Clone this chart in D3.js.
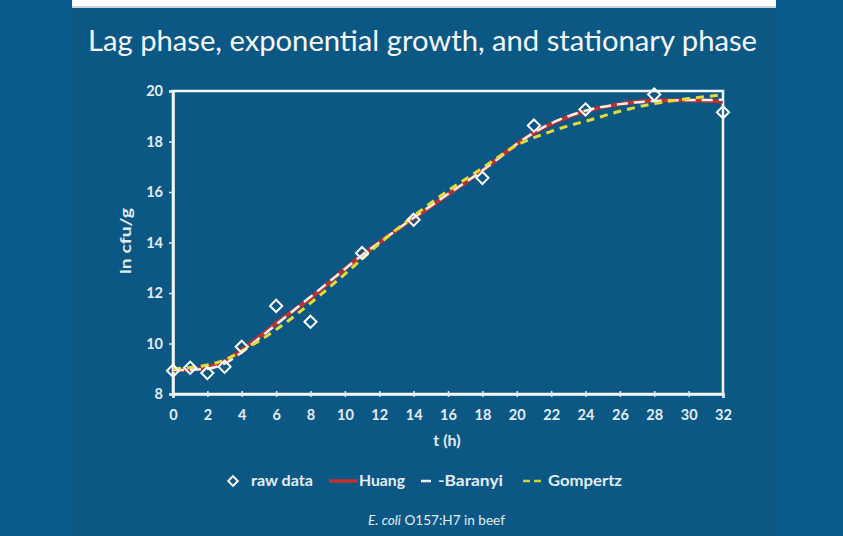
<!DOCTYPE html>
<html>
<head>
<meta charset="utf-8">
<script src="https://cdn.jsdelivr.net/npm/d3@7"></script>
<style>
  html, body { margin: 0; padding: 0; background: #0b5b8b; }
  svg { display: block; }
</style>
</head>
<body>
<svg id="chart" width="843" height="536"></svg>
<script>
// ---- data ----
const rawT      = [0, 1, 2, 3, 4, 6, 8, 11, 14, 18, 21, 24, 28, 32];
const rawValues = [8.92, 9.04, 8.83, 9.08, 9.87, 11.49, 10.86, 13.58, 14.9, 16.56, 18.63, 19.27, 19.86, 19.16];

const curveT   = [0, 1, 2, 3, 4, 5, 6, 7, 8, 10, 11, 12, 14, 16, 18, 19, 20, 21, 22, 23, 24, 26, 28, 30, 32];
const huang    = [8.95, 8.97, 9.05, 9.3, 9.75, 10.25, 10.8, 11.3, 11.8, 12.95, 13.5, 14.0, 14.96, 15.91, 16.85, 17.38, 17.9, 18.35, 18.7, 18.98, 19.2, 19.48, 19.62, 19.63, 19.58];
const baranyi  = [8.95, 8.96, 9.0, 9.2, 9.65, 10.2, 10.75, 11.3, 11.85, 12.95, 13.5, 14.0, 14.98, 15.92, 16.85, 17.36, 17.9, 18.35, 18.72, 19.0, 19.22, 19.48, 19.6, 19.64, 19.65];
const gompertz = [9.0, 9.05, 9.15, 9.35, 9.7, 10.1, 10.55, 11.05, 11.6, 12.75, 13.35, 13.95, 15.05, 16.05, 16.95, 17.42, 17.85, 18.15, 18.4, 18.62, 18.8, 19.2, 19.5, 19.7, 19.85];

const xTicks = [0, 2, 4, 6, 8, 10, 12, 14, 16, 18, 20, 22, 24, 26, 28, 30, 32];
const yTicks = [8, 10, 12, 14, 16, 18, 20];

const titleText = "Lag phase, exponential growth, and stationary phase";
const xLabel = "t (h)";
const yLabel = "ln cfu/g";
const legendNames = ["raw data", "Huang", "-Baranyi", "Gompertz"];

// ---- drawing ----
const svg = d3.select("#chart");
const FONT = "Lato, 'Open Sans', sans-serif";
const TXT = "#e4ecf4";

// background panels
svg.append("rect").attr("x", 0).attr("y", 0).attr("width", 843).attr("height", 536).attr("fill", "#0a5c8e");
svg.append("rect").attr("x", 72).attr("y", 0).attr("width", 704).attr("height", 536).attr("fill", "#0c5884");
svg.append("rect").attr("x", 72).attr("y", 0).attr("width", 704).attr("height", 8).attr("fill", "#ffffff");
svg.append("rect").attr("x", 72).attr("y", 6).attr("width", 704).attr("height", 2).attr("fill", "#c9d3dc");

// title
svg.append("text")
  .attr("x", 88).attr("y", 51)
  .attr("font-family", FONT).attr("font-size", 29)
  .attr("fill", "#f4f7fa")
  .attr("textLength", 669).attr("lengthAdjust", "spacingAndGlyphs")
  .text(titleText);

const x = d3.scaleLinear().domain([0, 32]).range([173, 723]);
const y = d3.scaleLinear().domain([8, 20]).range([394, 91]);

// frame
svg.append("rect")
  .attr("x", x(0)).attr("y", y(20))
  .attr("width", x(32) - x(0)).attr("height", y(8) - y(20))
  .attr("fill", "none").attr("stroke", "#f4f8fc").attr("stroke-width", 2.5);

// axes
const yAxis = svg.append("g").attr("transform", `translate(${x(0)},0)`)
  .call(d3.axisLeft(y).tickValues(yTicks).tickSize(4).tickPadding(6).tickFormat(d3.format("d")));
const xAxis = svg.append("g").attr("transform", `translate(0,${y(8)})`)
  .call(d3.axisBottom(x).tickValues(xTicks).tickSize(4).tickPadding(15).tickFormat(d3.format("d")));
[xAxis, yAxis].forEach(g => {
  g.select(".domain").attr("stroke", "#f4f8fc").attr("stroke-width", 2.5);
  g.selectAll(".tick line").attr("stroke", "#dfe8f0").attr("stroke-width", 1.5);
  g.selectAll(".tick text").attr("fill", TXT).attr("font-family", FONT)
    .attr("font-size", 14.5).attr("font-weight", "bold");
});
xAxis.selectAll(".tick line").attr("y1", -3).attr("y2", 3);
xAxis.selectAll(".tick text").attr("dy", "0.5em");

// axis labels
svg.append("text").attr("x", 447).attr("y", 446).attr("text-anchor", "middle")
  .attr("font-family", FONT).attr("font-size", 16).attr("font-weight", "bold").attr("fill", TXT)
  .text(xLabel);
svg.append("text").attr("transform", `translate(131,241) rotate(-90)`).attr("text-anchor", "middle")
  .attr("font-family", FONT).attr("font-size", 16).attr("font-weight", "bold").attr("fill", TXT)
  .attr("textLength", 66).attr("lengthAdjust", "spacingAndGlyphs")
  .text(yLabel);

// curves
const line = (vals) => d3.line()
  .x((d, i) => x(curveT[i]))
  .y(d => y(d))
  .curve(d3.curveMonotoneX)(vals);

svg.append("path").attr("d", line(huang)).attr("fill", "none")
  .attr("stroke", "#c0302c").attr("stroke-width", 4);
svg.append("path").attr("d", line(baranyi)).attr("fill", "none")
  .attr("stroke", "#f2f2f2").attr("stroke-width", 2.5).attr("stroke-dasharray", "11,6");
svg.append("path").attr("d", line(gompertz)).attr("fill", "none")
  .attr("stroke", "#e2dc3a").attr("stroke-width", 3).attr("stroke-dasharray", "8,6");

// raw data diamonds
const diamond = d3.symbol().type(d3.symbolDiamond2).size(95);
svg.append("g").selectAll("path").data(rawT).join("path")
  .attr("transform", (d, i) => `translate(${x(d)},${y(rawValues[i])})`)
  .attr("d", diamond)
  .attr("fill", "none").attr("stroke", "#ffffff").attr("stroke-width", 2);

// legend
const ly = 481;
const lg = svg.append("g").attr("font-family", FONT).attr("font-size", 15).attr("font-weight", "bold").attr("fill", TXT);
lg.append("path").attr("transform", `translate(233,${ly})`).attr("d", d3.symbol().type(d3.symbolDiamond2).size(60))
  .attr("fill", "none").attr("stroke", "#ffffff").attr("stroke-width", 2);
lg.append("text").attr("x", 251).attr("y", ly + 5).attr("textLength", 62).attr("lengthAdjust", "spacingAndGlyphs").text(legendNames[0]);
lg.append("line").attr("x1", 329).attr("x2", 358).attr("y1", ly).attr("y2", ly)
  .attr("stroke", "#c0302c").attr("stroke-width", 3.5);
lg.append("text").attr("x", 359).attr("y", ly + 5).attr("textLength", 46).attr("lengthAdjust", "spacingAndGlyphs").text(legendNames[1]);
lg.append("line").attr("x1", 421).attr("x2", 440).attr("y1", ly).attr("y2", ly)
  .attr("stroke", "#f2f2f2").attr("stroke-width", 2.5).attr("stroke-dasharray", "10,20");
lg.append("text").attr("x", 438).attr("y", ly + 5).attr("textLength", 65).attr("lengthAdjust", "spacingAndGlyphs").text(legendNames[2]);
lg.append("line").attr("x1", 523).attr("x2", 541).attr("y1", ly).attr("y2", ly)
  .attr("stroke", "#c9d43a").attr("stroke-width", 2.5).attr("stroke-dasharray", "7,4");
lg.append("text").attr("x", 548).attr("y", ly + 5).attr("textLength", 74).attr("lengthAdjust", "spacingAndGlyphs").text(legendNames[3]);

// subtitle
const sub = svg.append("text").attr("x", 368).attr("y", 525)
  .attr("font-family", FONT).attr("font-size", 13.5).attr("fill", TXT)
  .attr("textLength", 137).attr("lengthAdjust", "spacingAndGlyphs");
sub.append("tspan").attr("font-style", "italic").text("E. coli");
sub.append("tspan").text(" O157:H7 in beef");
</script>
</body>
</html>
